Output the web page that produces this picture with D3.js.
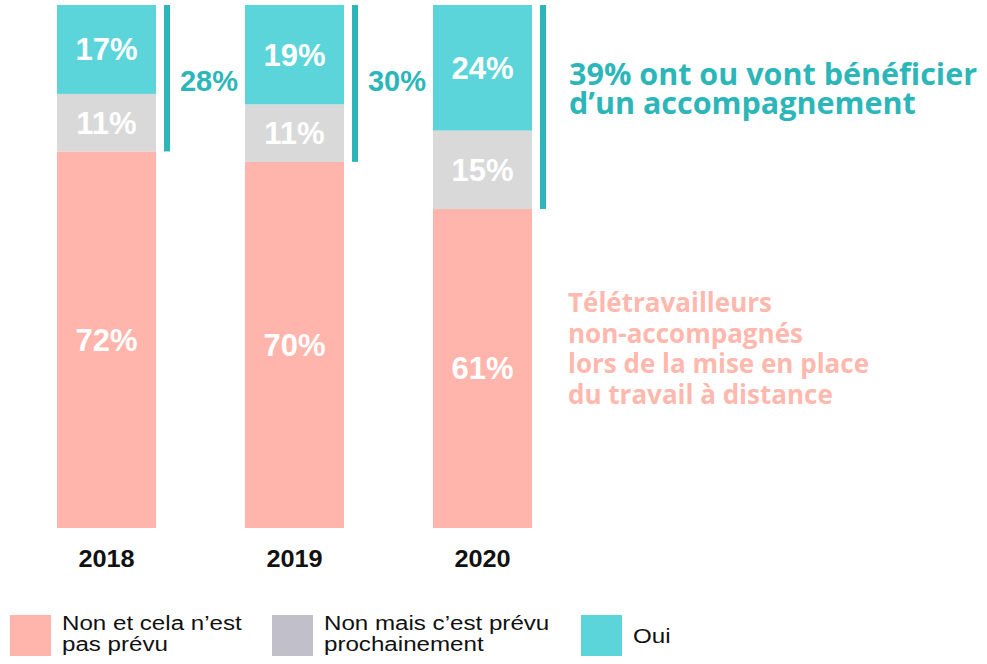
<!DOCTYPE html>
<html>
<head>
<meta charset="utf-8">
<script src="https://cdn.jsdelivr.net/npm/d3@7"></script>
<style>
  body { margin: 0; background: #fff; }
  svg { display: block; }
</style>
</head>
<body>
<div id="chart"></div>
<script>
// Data
const years = ["2018", "2019", "2020"];
const nonPrevu = [72, 70, 61];     // Non et cela n'est pas prévu
const prevu = [11, 11, 15];        // Non mais c'est prévu prochainement
const oui = [17, 19, 24];          // Oui
const bracketTotals = ["28%", "30%"];
const legendLabels = [
  ["Non et cela n\u2019est", "pas prévu"],
  ["Non mais c\u2019est prévu", "prochainement"],
  ["Oui"],
];
const noteTeal = ["39% ont ou vont bénéficier", "d\u2019un accompagnement"];
const noteSalmon = [
  "Télétravailleurs",
  "non-accompagnés",
  "lors de la mise en place",
  "du travail à distance",
];

const colors = { non: "#ffb5ab", prevu: "#d9d9d9", oui: "#5bd5da" };
const legendColors = ["#ffb5ab", "#c0bfca", "#5bd5da"];
const tealText = "#2db6ba";
const salmonText = "#ffb8ad";

const width = 987, height = 664;

const svg = d3
  .select("#chart")
  .append("svg")
  .attr("width", width)
  .attr("height", height);

const x = d3.scaleBand().domain(years).range([57, 532]).paddingInner(0.4734);
const y = d3.scaleLinear().domain([0, 100]).range([528, 5]);

// build stacked rows
const rows = years.map((yr, i) => ({
  year: yr,
  non: nonPrevu[i],
  prevu: prevu[i],
  oui: oui[i],
}));
const stack = d3.stack().keys(["non", "prevu", "oui"])(rows);

const layers = svg
  .selectAll("g.layer")
  .data(stack)
  .join("g")
  .attr("class", "layer")
  .attr("fill", (d) => colors[d.key]);

layers
  .selectAll("rect")
  .data((d) => d)
  .join("rect")
  .attr("x", (d) => x(d.data.year))
  .attr("y", (d) => y(d[1]))
  .attr("width", x.bandwidth())
  .attr("height", (d) => y(d[0]) - y(d[1]));

// value labels inside the bars
layers
  .selectAll("text")
  .data((d) => d)
  .join("text")
  .attr("x", (d) => x(d.data.year) + x.bandwidth() / 2)
  .attr("y", (d) => (y(d[0]) + y(d[1])) / 2 + 11)
  .attr("text-anchor", "middle")
  .attr("fill", "#fff")
  .attr("font-family", "'Liberation Sans', Arial, sans-serif")
  .attr("font-weight", "bold")
  .attr("font-size", "31px")
  .text((d) => d[1] - d[0] + "%");

// year labels
svg
  .selectAll("text.year")
  .data(years)
  .join("text")
  .attr("class", "year")
  .attr(
    "transform",
    (d) => `translate(${x(d) + x.bandwidth() / 2}, 567) scale(1.1, 1)`
  )
  .attr("text-anchor", "middle")
  .attr("font-family", "'Liberation Sans', Arial, sans-serif")
  .attr("font-weight", "bold")
  .attr("font-size", "23px")
  .attr("fill", "#111")
  .text((d) => d);

// teal brackets on the right of each bar (Oui + prévu)
svg
  .selectAll("rect.bracket")
  .data(rows)
  .join("rect")
  .attr("class", "bracket")
  .attr("x", (d) => x(d.year) + x.bandwidth() + 8)
  .attr("y", y(100))
  .attr("width", 6)
  .attr("height", (d) => y(d.non) - y(100))
  .attr("fill", tealText);

svg
  .selectAll("text.total")
  .data(bracketTotals)
  .join("text")
  .attr("class", "total")
  .attr("x", (d, i) => x(years[i]) + x.bandwidth() + 53)
  .attr("y", 91)
  .attr("text-anchor", "middle")
  .attr("fill", tealText)
  .attr("font-family", "'Liberation Sans', Arial, sans-serif")
  .attr("font-weight", "bold")
  .attr("font-size", "29px")
  .text((d) => d);

// annotations
const noteX = x("2020") + x.bandwidth() + 37;

svg
  .append("g")
  .selectAll("text")
  .data(noteTeal)
  .join("text")
  .attr("x", noteX)
  .attr("y", (d, i) => 85 + i * 29)
  .attr("fill", tealText)
  .attr("font-family", "'Open Sans', sans-serif")
  .attr("font-weight", "bold")
  .attr("font-size", "30.5px")
  .text((d) => d);

svg
  .append("g")
  .selectAll("text")
  .data(noteSalmon)
  .join("text")
  .attr("x", noteX - 1)
  .attr("y", (d, i) => 312 + i * 30.5)
  .attr("fill", salmonText)
  .attr("font-family", "'Open Sans', sans-serif")
  .attr("font-weight", "bold")
  .attr("font-size", "26px")
  .text((d) => d);

// legend
const legendX = [10, 272, 581];
const legend = svg
  .selectAll("g.legend")
  .data(legendLabels)
  .join("g")
  .attr("class", "legend")
  .attr("transform", (d, i) => `translate(${legendX[i]}, 615)`);

legend
  .append("rect")
  .attr("width", 41)
  .attr("height", 41)
  .attr("fill", (d, i) => legendColors[i]);

legend
  .selectAll("text")
  .data((d) => d.map((t, j) => ({ t, j, n: d.length })))
  .join("text")
  .attr(
    "transform",
    (d) =>
      `translate(52, ${d.n === 1 ? 28 : 15 + d.j * 21}) scale(1.15, 1)`
  )
  .attr("font-family", "'Liberation Sans', Arial, sans-serif")
  .attr("font-size", "21px")
  .attr("fill", "#111")
  .text((d) => d.t);
</script>
</body>
</html>
